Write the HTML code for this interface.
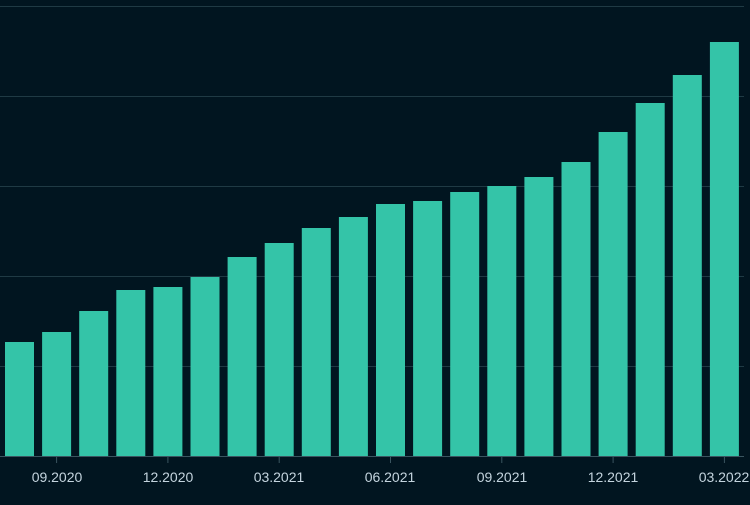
<!DOCTYPE html>
<html><head><style>body{margin:0;background:#011520;}</style></head><body>
<svg width="750" height="500" xmlns="http://www.w3.org/2000/svg">
<rect width="750" height="500" fill="#011520"/>
<g stroke="#1f3a44" stroke-width="1">
<line x1="0" x2="744" y1="6.5" y2="6.5"/>
<line x1="0" x2="744" y1="96.5" y2="96.5"/>
<line x1="0" x2="744" y1="186.5" y2="186.5"/>
<line x1="0" x2="744" y1="276.5" y2="276.5"/>
<line x1="0" x2="744" y1="366.5" y2="366.5"/>
</g>
<g fill="#34c4a8">
<rect x="5" y="342" width="29" height="114"/>
<rect x="42.1" y="332" width="29" height="124"/>
<rect x="79.2" y="311" width="29" height="145"/>
<rect x="116.3" y="290" width="29" height="166"/>
<rect x="153.4" y="287" width="29" height="169"/>
<rect x="190.5" y="277" width="29" height="179"/>
<rect x="227.6" y="257" width="29" height="199"/>
<rect x="264.7" y="243" width="29" height="213"/>
<rect x="301.8" y="228" width="29" height="228"/>
<rect x="338.9" y="217" width="29" height="239"/>
<rect x="376" y="204" width="29" height="252"/>
<rect x="413.1" y="201" width="29" height="255"/>
<rect x="450.2" y="192" width="29" height="264"/>
<rect x="487.3" y="186" width="29" height="270"/>
<rect x="524.4" y="177" width="29" height="279"/>
<rect x="561.5" y="162" width="29" height="294"/>
<rect x="598.6" y="132" width="29" height="324"/>
<rect x="635.7" y="103" width="29" height="353"/>
<rect x="672.8" y="75" width="29" height="381"/>
<rect x="709.9" y="42" width="29" height="414"/>
</g>
<line x1="0" x2="744" y1="456.5" y2="456.5" stroke="#3a5560"/>
<g stroke="#3a5560">
<line x1="56.6" x2="56.6" y1="457" y2="463"/>
<line x1="167.9" x2="167.9" y1="457" y2="463"/>
<line x1="279.2" x2="279.2" y1="457" y2="463"/>
<line x1="390.5" x2="390.5" y1="457" y2="463"/>
<line x1="501.8" x2="501.8" y1="457" y2="463"/>
<line x1="613.1" x2="613.1" y1="457" y2="463"/>
<line x1="724.4" x2="724.4" y1="457" y2="463"/>
</g>
<g fill="#c4d4de" font-family="Liberation Sans, sans-serif" font-size="14" text-anchor="middle">
<text x="57" y="482">09.2020</text>
<text x="168" y="482">12.2020</text>
<text x="279" y="482">03.2021</text>
<text x="390" y="482">06.2021</text>
<text x="502" y="482">09.2021</text>
<text x="613" y="482">12.2021</text>
<text x="724" y="482">03.2022</text>
</g>
</svg>
</body></html>
